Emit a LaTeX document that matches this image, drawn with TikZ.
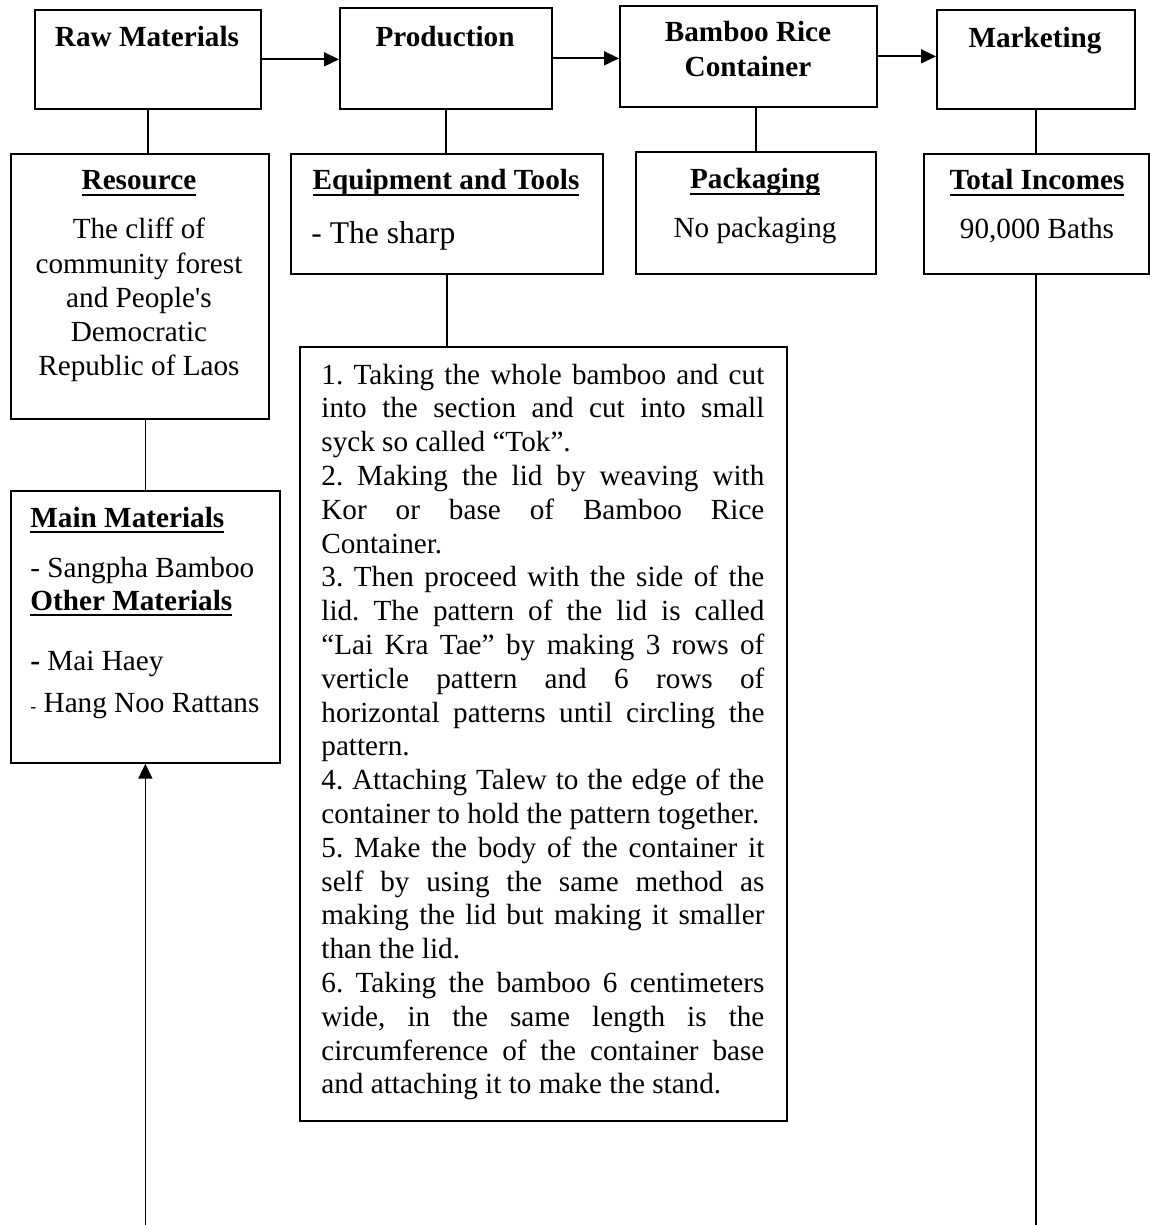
\documentclass[tikz,border=0pt]{standalone}
\usepackage{fontspec}
\setmainfont{Liberation Serif}
\usetikzlibrary{arrows.meta}
\frenchspacing

% bold heading with a fixed-position underline
\newsavebox\headbox
\newcommand\ulhead[1]{\sbox\headbox{\bfseries #1}\rlap{\rule[-3.2pt]{\wd\headbox}{1.1pt}}\usebox\headbox}
% a fully justified line inside a parbox
\newcommand\J[1]{\makebox[\linewidth][s]{#1}}

\begin{document}
\begin{tikzpicture}[
  x=0.5pt, y=-0.5pt,
  box/.style={draw, line width=0.85pt, rectangle, inner sep=0pt, anchor=north west},
  conn/.style={line width=0.85pt},
  arr/.style={line width=0.85pt, -{Triangle[length=7.5pt,width=7pt]}},
  txt/.style={inner sep=0pt, font=\fontsize{14.6}{17}\selectfont},
  head/.style={txt, anchor=base, font=\fontsize{14.6}{17}\selectfont\bfseries},
]
\useasboundingbox (0,0) rectangle (1150,1225);
\coordinate (foot) at (0,1225);

% top row: stages
\node[box, minimum width=113pt, minimum height=49.5pt] (raw)  at (34,9)  {};
\node[box, minimum width=106pt, minimum height=50.5pt] (prod) at (339,7) {};
\node[box, minimum width=128.5pt, minimum height=50.5pt] (brc) at (619,5) {};
\node[box, minimum width=99pt, minimum height=49.5pt] (mkt)  at (936,9) {};

\node[head] (rawT)  at (147,47)  {Raw Materials};
\node[head] (prodT) at (445,47)  {Production};
\node[head] (brcT1) at (748,42)  {Bamboo Rice};
\node[head] (brcT2) at (748,77)  {Container};
\node[head] (mktT)  at (1035,48) {Marketing};

% second row: details
\node[box, minimum width=129pt, minimum height=132.5pt] (res)   at (10,153)  {};
\node[box, minimum width=156pt, minimum height=60pt]    (equip) at (290,153) {};
\node[box, minimum width=120pt, minimum height=61pt]    (pack)  at (635,151) {};
\node[box, minimum width=112.5pt, minimum height=60pt]  (inc)   at (923,153) {};

\node[txt, anchor=base] (resT) at (139,190) {\ulhead{Resource}};
\node[txt, anchor=base] (resB) at (139,239) {\parbox[t]{125pt}{\centering\fontsize{14.6}{17.1}\selectfont
  The cliff of\\ community forest\\ and People\textquotesingle s\\ Democratic\\ Republic of Laos}};

\node[txt, anchor=base] (equipT) at (446,190) {\ulhead{Equipment and Tools}};
\node[txt, anchor=base west, font=\fontsize{15.8}{18}\selectfont] (equipB) at (311,243) {- The sharp};

\node[txt, anchor=base] (packT) at (755,189) {\ulhead{Packaging}};
\node[txt, anchor=base] (packB) at (755,237) {No packaging};

\node[txt, anchor=base] (incT) at (1037,190) {\ulhead{Total Incomes}};
\node[txt, anchor=base] (incB) at (1037,239) {90,000 Baths};

% production steps
\node[box, minimum width=243.5pt, minimum height=387pt] (steps) at (299,346) {};
\node[txt, anchor=base west] (stepsT) at (321,384) {\parbox[t]{221.5pt}{\fontsize{14.6}{16.9}\selectfont
  \J{1. Taking the whole bamboo and cut}\\
  \J{into the section and cut into small}\\
  syck so called “Tok”.\\
  \J{2. Making the lid by weaving with}\\
  \J{Kor or base of Bamboo Rice}\\
  Container.\\
  \J{3. Then proceed with the side of the}\\
  \J{lid. The pattern of the lid is called}\\
  \J{“Lai Kra Tae” by making 3 rows of}\\
  \J{verticle pattern and 6 rows of}\\
  \J{horizontal patterns until circling the}\\
  pattern.\\
  \J{4. Attaching Talew to the edge of the}\\
  container to hold the pattern together.\\
  \J{5. Make the body of the container it}\\
  \J{self by using the same method as}\\
  \J{making the lid but making it smaller}\\
  than the lid.\\
  \J{6. Taking the bamboo 6 centimeters}\\
  \J{wide, in the same length is the}\\
  \J{circumference of the container base}\\
  and attaching it to make the stand.}};

% materials
\node[box, minimum width=134.5pt, minimum height=136pt] (main) at (10,490) {};
\node[txt, anchor=base west] (mainT)  at (30,527) {\ulhead{Main Materials}};
\node[txt, anchor=base west] (mainB)  at (30,577) {- Sangpha Bamboo};
\node[txt, anchor=base west] (otherT) at (30,610) {\ulhead{Other Materials}};
\node[txt, anchor=base west] (otherA) at (30,670) {\textbf{-} Mai Haey};
\node[txt, anchor=base west] (otherB) at (30,712) {{\fontsize{9}{9}\selectfont -} Hang Noo Rattans};

% flow arrows
\draw[arr] (raw.east)  -- (raw.east -| prod.west);
\draw[arr] (prod.east) -- (prod.east -| brc.west);
\draw[arr] (brc.east)  -- (brc.east -| mkt.west);

% vertical links
\draw[conn] (raw.south)  -- (raw.south |- res.north);
\draw[conn] (prod.south) -- (prod.south |- equip.north);
\draw[conn] (pack.north |- brc.south) -- (pack.north);
\draw[conn] (mkt.south)  -- (mkt.south |- inc.north);
\draw[conn] (equip.south) -- (equip.south |- steps.north);
\draw[conn] (main.north |- res.south) -- (main.north);
\draw[arr]  (main.south |- foot) -- (main.south);
\draw[conn] (mkt.south |- inc.south) -- (mkt.south |- foot);
\end{tikzpicture}
\end{document}
